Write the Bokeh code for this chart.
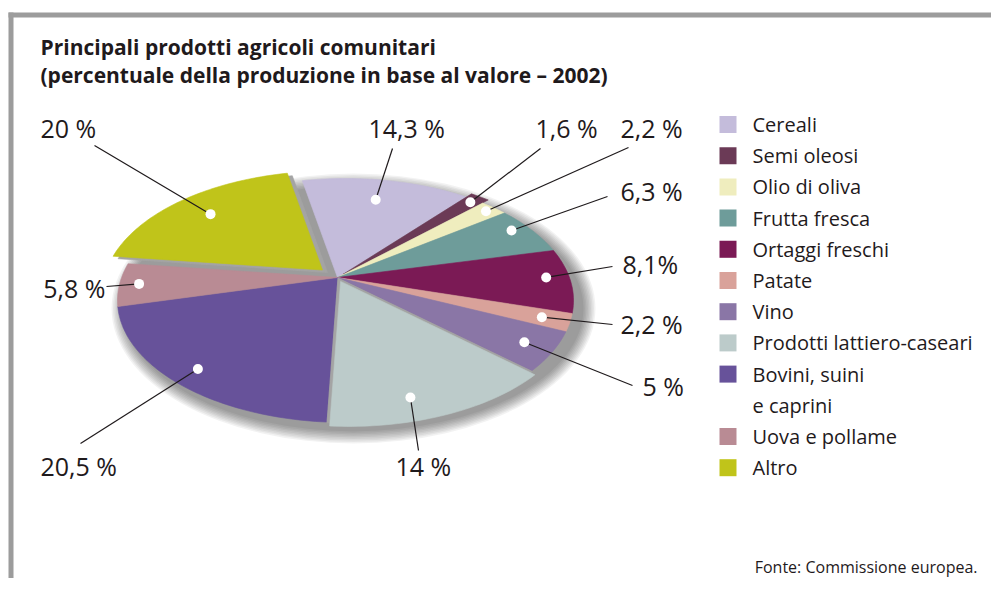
import numpy as np
from bokeh.plotting import figure
from bokeh.models import Range1d, ColumnDataSource
from bokeh.embed import file_html
from bokeh.resources import INLINE
from bokeh.core.properties import value

# ---------------- data ----------------
categories = ["Cereali", "Semi oleosi", "Olio di oliva", "Frutta fresca",
              "Ortaggi freschi", "Patate", "Vino", "Prodotti lattiero-caseari",
              "Bovini, suini\ne caprini", "Uova e pollame", "Altro"]
shares = [14.3, 1.6, 2.2, 6.3, 8.1, 2.2, 5.0, 14.0, 20.5, 5.8, 20.0]
pct_labels = ["14,3 %", "1,6 %", "2,2 %", "6,3 %", "8,1%", "2,2 %", "5 %",
              "14 %", "20,5 %", "5,8 %", "20 %"]
colors = ["#c4bcdb", "#6b3a56", "#efedbe", "#6e9c9a", "#7b1a55", "#d9a29a",
          "#8a76a6", "#bccbca", "#67529a", "#b98b94", "#c0c41a"]

title_lines = ["Principali prodotti agricoli comunitari",
               "(percentuale della produzione in base al valore \u2013 2002)"]
source_note = "Fonte: Commissione europea."

# ---------------- layout (pixel coordinates) ----------------
W, H = 991, 578
CX, CY, RX, RY = 345.0, 300.0, 228.0, 122.0     # ellipse
AX, AY = 337.0, 277.0                           # apex of the slices
START = 101.0                                   # start angle (deg), clockwise
explode = [0, 0.035, 0, 0, 0, 0, 0, 0.035, 0, 0, 0.09]
side = [0, 0, 0, 0, 0, 0, 0, 0.03, 0, 0, 0.03]
dot_frac = [0.80, 0.93, 0.95, 0.92, 0.90, 0.88, 0.87, 0.84, 0.87, 0.91, 0.80]
dot_pos = [0.5, 0.5, 0.5, 0.4, 0.45, 0.5, 0.5, 0.6, 0.5, 0.5, 0.5]
label_x = [368, 535, 620, 620, 622, 620, 642, 395, 40, 105, 40]
label_y = [127, 127, 127, 190, 263, 323, 385, 465, 465, 287, 127]
label_align = ["left"] * 9 + ["right", "left"]
leader_x = [392, 540, 628, 607, 612, 612, 632, 418, 80, 106, 94]
leader_y = [148, 148, 147, 196, 266, 324, 385, 450, 443, 286, 145]
FONT = value("Open Sans")
TXT = "#1f1a1c"

A = np.array([(AX - CX) / RX, (CY - AY) / RY])


def direction(theta):
    t = np.radians(theta)
    return np.array([np.cos(t), np.sin(t)])


def ray(theta):
    d = direction(theta)
    b = A @ d
    s = -b + np.sqrt(b * b + 1.0 - A @ A)
    return A + s * d, s


def to_px(u, v):
    return CX + np.asarray(u) * RX, CY - np.asarray(v) * RY


total = sum(shares)
bounds = START - np.concatenate([[0.0], np.cumsum(shares)]) * 360.0 / total


def slice_poly(i, exp):
    t0, t1 = bounds[i], bounds[i + 1]
    n = max(4, int(abs(t0 - t1) / 1.2) + 2)
    pts = [A] + [ray(t)[0] for t in np.linspace(t0, t1, n)]
    pts = np.array(pts)
    off = exp * direction((t0 + t1) / 2)
    xs, ys = to_px(pts[:, 0] + off[0], pts[:, 1] + off[1])
    return list(xs), list(ys)


p = figure(width=W, height=H, output_backend="svg", toolbar_location=None,
           x_range=Range1d(0, W), y_range=Range1d(H, 0),
           min_border=0, outline_line_color=None)
p.axis.visible = False
p.grid.visible = False
p.background_fill_color = "white"
p.border_fill_color = "white"

# frame
p.quad(left=[8, 8], right=[13, W], top=[12, 12], bottom=[H, 17],
       fill_color="#9c9c9c", line_color=None)

# soft shadow
for k in range(9):
    p.ellipse(x=[CX + 8], y=[CY + 8], width=[2 * RX + 4 + 3 * k],
              height=[2 * RY + 2 + 3 * k], fill_color="#000000",
              fill_alpha=0.05, line_color=None)

# slices
base_xs, base_ys, base_c = [], [], []
top_xs, top_ys, top_c = [], [], []
side_xs, side_ys = [], []
for i in range(len(shares)):
    xs, ys = slice_poly(i, explode[i])
    if side[i] > 0:
        sx, sy = slice_poly(i, explode[i] - side[i])
        side_xs.append(sx)
        side_ys.append(sy)
        top_xs.append(xs); top_ys.append(ys); top_c.append(colors[i])
    else:
        base_xs.append(xs); base_ys.append(ys); base_c.append(colors[i])

p.patches(xs=base_xs, ys=base_ys, fill_color=base_c, line_color=base_c, line_width=0.6)
p.patches(xs=side_xs, ys=side_ys, fill_color="#a4a4a4", line_color="#a4a4a4", line_width=0.6)
p.patches(xs=top_xs, ys=top_ys, fill_color=top_c, line_color=top_c, line_width=0.6)

# dots and leaders
dx, dy = [], []
for i in range(len(shares)):
    t0, t1 = bounds[i], bounds[i + 1]
    mid = (t0 + t1) / 2
    ang = t0 + dot_pos[i] * (t1 - t0)
    _, s = ray(ang)
    pt = A + dot_frac[i] * s * direction(ang) + explode[i] * direction(mid)
    x, y = to_px(pt[0], pt[1])
    dx.append(float(x)); dy.append(float(y))

p.segment(x0=dx, y0=dy, x1=leader_x, y1=leader_y, line_color="#1f1a1c", line_width=1.2)
p.scatter(x=dx, y=dy, size=10, fill_color="white", line_color=None)

# percentage labels
for al in ("left", "right"):
    idx = [i for i in range(len(shares)) if label_align[i] == al]
    src = ColumnDataSource(dict(x=[label_x[i] for i in idx],
                                y=[label_y[i] for i in idx],
                                t=[pct_labels[i] for i in idx]))
    p.text(x="x", y="y", text="t", source=src, text_font=FONT,
           text_font_size="25px", text_align=al, text_baseline="middle",
           text_color=TXT)

# title
p.text(x=[40, 40], y=[46, 74], text=title_lines, text_font=FONT,
       text_font_size="21px", text_font_style="bold", text_baseline="middle",
       text_color=TXT)

# legend
LX, LY0, STEP = 727.5, 124.0, 31.2
sq_y, tx_y, tx_t = [], [], []
row = 0
for cat in categories:
    sq_y.append(LY0 + STEP * row)
    for line in cat.split("\n"):
        tx_y.append(LY0 + STEP * row)
        tx_t.append(line)
        row += 1
p.rect(x=[LX] * len(categories), y=sq_y, width=17, height=17,
       fill_color=colors, line_color=None)
p.text(x=[752] * len(tx_t), y=tx_y, text=tx_t, text_font=FONT,
       text_font_size="20px", text_baseline="middle", text_color=TXT)

# source note
p.text(x=[977], y=[566], text=[source_note], text_font=FONT,
       text_font_size="16px", text_align="right", text_baseline="middle",
       text_color=TXT)

open("out.html", "w").write(file_html(p, INLINE))
